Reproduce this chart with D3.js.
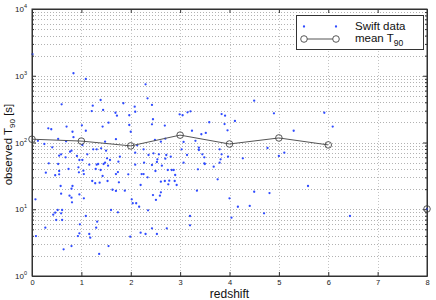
<!DOCTYPE html>
<html>
<head>
<meta charset="utf-8">
<script src="https://cdn.jsdelivr.net/npm/d3@7"></script>
<style>
  body { margin: 0; background: #fff; }
  svg { display: block; font-family: "Liberation Sans", Arial, sans-serif; }
</style>
</head>
<body>
<svg id="chart" width="436" height="300"></svg>
<script>
// Swift bursts: [redshift, observed T90 in s]
const swiftData = [
  [0.01,2100],
  [0.84,1090],[1.09,894],[0.60,373],[1.23,356],[1.39,433],[1.21,296],[1.44,307],[1.85,387],[1.69,279],[1.72,252],
  [1.55,198],[1.97,183],[0.33,163],[0.39,158],[0.70,173],[1.01,181],[0.82,145],[1.43,173],[0.84,120],[0.53,113],
  [1.70,112],[1.48,103],[0.12,106],[0.25,95],[0.41,84.7],[0.69,104],[1.02,91.8],[1.24,79.1],[1.31,79.1],[1.40,81.8],
  [1.50,75.4],[0.55,63.4],[0.59,66.6],[0.68,60.0],[0.77,72.8],[0.80,75.4],[0.91,62.8],[1.12,66.6],[0.96,54.7],[1.02,54.7],
  [1.52,58.0],[1.48,49.8],[1.58,54.7],[1.78,61.3],[1.75,51.6],[0.34,48.8],[1.34,47.6],
  [0.53,47.6],[0.28,35.3],[0.55,37.4],[0.47,32.3],[0.55,33.4],[0.74,40.1],[0.94,42.5],[0.95,35.8],[1.04,37.8],[1.05,33.7],
  [1.16,46.5],[1.31,46.5],[1.29,40.1],[1.39,38.7],[1.45,47.6],[1.54,44.9],[1.74,36.1],[1.70,33.7],[1.43,31.5],[1.95,33.4],
  [1.22,26.5],[1.28,24.5],[1.37,25.0],[1.53,26.5],[1.76,25.3],[0.58,22.3],[0.82,22.3],[0.80,20.3],[1.63,19.6],[1.70,18.8],[1.88,19.0],
  [0.59,17.1],[0.76,16.0],[0.96,16.7],[0.80,14.9],[1.05,14.6],[0.07,14.1],[0.81,12.7],[0.52,9.75],[0.61,9.75],[0.47,8.88],
  [0.43,8.28],[0.59,8.69],[1.60,9.75],[1.74,9.0],[1.09,7.92],[0.49,6.90],[0.61,6.90],[1.32,6.51],[0.97,5.95],[0.27,5.29],
  [1.30,5.29],[0.96,4.36],[0.93,3.97],[1.16,4.26],[1.18,3.75],[0.08,3.97],[1.55,2.81],[0.80,2.81],[0.64,2.51],[1.36,2.14],
  [2.30,745],[2.34,459],[2.08,344],[2.09,289],[2.43,365],[2.00,145],[2.45,223],[2.43,187],[2.69,179],[2.99,264],
  [3.05,256],[3.15,283],[3.21,293],[3.59,201],[3.24,150],[3.52,139],[3.43,133],[3.84,267],[3.91,252],[3.90,189],[3.96,152],
  [2.13,90.8],[2.49,109],[2.61,103],[2.70,114],[3.07,102],[3.31,106],[2.09,70.3],[2.26,79.1],[2.36,65.0],[2.46,68.9],
  [2.57,66.6],[2.72,65.0],[2.81,61.3],[2.70,57.2],[2.54,56.0],[3.03,79.1],[3.14,65.0],[3.38,83.6],[3.38,77.2],[3.45,66.6],
  [3.49,60.0],[3.80,79.1],[3.84,66.6],[3.82,56.0],[3.97,61.3],[2.27,49.8],[3.07,49.8],[3.49,48.8],[1.97,256],[1.09,150],
  [2.09,46.5],[2.43,46.0],[2.53,51.0],[2.63,44.9],[2.50,37.4],[2.75,38.7],[2.83,38.7],[2.87,38.7],[2.22,33.7],[2.26,33.7],
  [2.34,30.1],[2.90,32.6],[2.78,26.8],[2.61,25.9],[2.69,26.5],[2.76,23.6],[2.89,26.5],[2.93,23.1],[2.20,23.1],[2.61,17.9],
  [2.45,16.3],[2.59,16.0],[2.51,13.8],[2.02,14.1],[2.04,12.3],[2.11,12.3],[2.17,10.9],[2.35,9.64],[2.73,5.18],[2.43,5.18],
  [2.20,4.45],[2.30,4.26],[2.53,4.26],[1.99,3.88],[3.50,47.6],[3.80,49.8],[3.68,43.4],[3.36,39.7],[3.76,28.1],[3.34,19.0],
  [4.00,14.6],[3.20,7.92],[3.20,5.75],
  [4.50,423],[4.90,274],[4.11,210],[5.30,150],[5.92,279],[6.09,173],[4.77,82.7],[5.11,70.3],[5.00,62.8],[4.27,58.0],
  [4.50,18.3],[4.81,17.5],[4.17,10.9],[4.41,11.2],[4.70,8.69],[4.04,7.47],[5.59,22.3],[6.44,7.92],[8.00,10.1]
];

// mean T90 per redshift bin (no bin at 7, so the line stops at 6)
const meanRedshift = [0, 1, 2, 3, 4, 5, 6, 7, 8];
const meanT90 = [112, 105, 89, 129, 95, 117, 92, null, 10.1];

const xTicks = [0, 1, 2, 3, 4, 5, 6, 7, 8];
const yDecades = [1, 10, 100, 1000, 10000];
const yExponents = ['0', '1', '2', '3', '4'];

const W = 436, H = 300;
const m = {top: 9, right: 9, bottom: 24, left: 32};
const axisColor = '#333';

const x = d3.scaleLinear().domain([0, 8]).range([m.left, W - m.right]);
const y = d3.scaleLog().domain([1, 1e4]).range([H - m.bottom, m.top]);

const svg = d3.select('#chart');

// --- dotted grid: every log tick horizontally, integer redshifts vertically ---
const yAll = y.ticks().filter(v => v > 1 && v < 1e4);
svg.append('g')
  .selectAll('line')
  .data(yAll)
  .join('line')
  .attr('x1', x(0)).attr('x2', x(8))
  .attr('y1', d => Math.round(y(d)) + 0.5)
  .attr('y2', d => Math.round(y(d)) + 0.5)
  .attr('stroke', '#b2b2b2')
  .attr('stroke-width', 1)
  .attr('stroke-dasharray', '1,2');

svg.append('g')
  .selectAll('line')
  .data(xTicks.filter(d => d > 0 && d < 8))
  .join('line')
  .attr('x1', d => Math.round(x(d)) + 0.5)
  .attr('x2', d => Math.round(x(d)) + 0.5)
  .attr('y1', y(1e4)).attr('y2', y(1))
  .attr('stroke', '#c4c4c4')
  .attr('stroke-width', 1)
  .attr('stroke-dasharray', '1,2');

// --- axes (MATLAB style: ticks pointing in, on all four sides) ---
const isMajor = v => Math.abs(Math.log10(v) - Math.round(Math.log10(v))) < 1e-9;

const xb = svg.append('g')
  .attr('transform', `translate(0,${y(1)})`)
  .call(d3.axisBottom(x).tickValues(xTicks).tickSizeInner(-4).tickSizeOuter(0).tickPadding(4));
const xt = svg.append('g')
  .attr('transform', `translate(0,${y(1e4)})`)
  .call(d3.axisTop(x).tickValues(xTicks).tickSizeInner(-4).tickSizeOuter(0).tickFormat(''));
const yl = svg.append('g')
  .attr('transform', `translate(${x(0)},0)`)
  .call(d3.axisLeft(y).tickValues(y.ticks()).tickSizeOuter(0).tickFormat(''));
const yr = svg.append('g')
  .attr('transform', `translate(${x(8)},0)`)
  .call(d3.axisRight(y).tickValues(y.ticks()).tickSizeOuter(0).tickFormat(''));

yl.selectAll('.tick line').attr('x2', d => isMajor(d) ? 4 : 2);
yr.selectAll('.tick line').attr('x2', d => isMajor(d) ? -4 : -2);

[xb, xt, yl, yr].forEach(g => {
  g.select('.domain').attr('stroke', axisColor);
  g.selectAll('.tick line').attr('stroke', axisColor);
});
xb.selectAll('.tick text')
  .attr('fill', '#222')
  .attr('font-size', 7.5)
  .attr('font-family', '"Liberation Sans", Arial, sans-serif');

// y tick labels as 10^n
const yLab = svg.append('g')
  .selectAll('text')
  .data(yDecades)
  .join('text')
  .attr('x', x(0) - 5)
  .attr('y', d => y(d) + 3)
  .attr('text-anchor', 'end')
  .attr('font-size', 8)
  .attr('fill', '#222');
yLab.append('tspan').text('10');
yLab.append('tspan')
  .attr('dy', -4)
  .attr('font-size', 5.5)
  .text((d, i) => yExponents[i]);

// axis titles
svg.append('text')
  .attr('x', (x(0) + x(8)) / 2)
  .attr('y', 298)
  .attr('text-anchor', 'middle')
  .attr('font-size', 12)
  .attr('fill', '#111')
  .text('redshift');

const yTitle = svg.append('text')
  .attr('transform', `translate(12,${(y(1) + y(1e4)) / 2 + 2}) rotate(-90)`)
  .attr('text-anchor', 'middle')
  .attr('font-size', 11.5)
  .attr('fill', '#111');
yTitle.append('tspan').text('observed T');
yTitle.append('tspan').attr('font-size', 8).attr('dy', 3).text('90');
yTitle.append('tspan').attr('dy', -3).text(' [s]');

// --- Swift data points ---
const blue = '#2f4bff';
svg.append('g')
  .selectAll('circle')
  .data(swiftData)
  .join('circle')
  .attr('cx', d => x(d[0]))
  .attr('cy', d => y(d[1]))
  .attr('r', 1.15)
  .attr('fill', blue);

// --- mean T90 line + open circles ---
const meanPts = meanRedshift.map((z, i) => ({z, t: meanT90[i]}));
const line = d3.line()
  .defined(d => d.t != null)
  .x(d => x(d.z))
  .y(d => y(d.t));

svg.append('path')
  .datum(meanPts)
  .attr('d', line)
  .attr('fill', 'none')
  .attr('stroke', '#555')
  .attr('stroke-width', 1);

svg.append('g')
  .selectAll('circle')
  .data(meanPts.filter(d => d.t != null))
  .join('circle')
  .attr('cx', d => x(d.z))
  .attr('cy', d => y(d.t))
  .attr('r', 3.3)
  .attr('fill', 'none')
  .attr('stroke', '#444')
  .attr('stroke-width', 0.9);

// --- legend ---
const lg = svg.append('g').attr('transform', 'translate(296.5,15.5)');
lg.append('rect')
  .attr('width', 127).attr('height', 34)
  .attr('fill', '#fff')
  .attr('stroke', axisColor)
  .attr('stroke-width', 1);
lg.selectAll('circle.dot')
  .data([7.5, 39.5])
  .join('circle')
  .attr('class', 'dot')
  .attr('cx', d => d).attr('cy', 11)
  .attr('r', 1.15)
  .attr('fill', blue);
lg.append('line')
  .attr('x1', 7.5).attr('x2', 39.5)
  .attr('y1', 23.5).attr('y2', 23.5)
  .attr('stroke', '#555');
lg.selectAll('circle.ring')
  .data([7.5, 39.5])
  .join('circle')
  .attr('class', 'ring')
  .attr('cx', d => d).attr('cy', 23.5)
  .attr('r', 3.3)
  .attr('fill', '#fff')
  .attr('stroke', '#444')
  .attr('stroke-width', 0.9);
lg.append('text')
  .attr('x', 58.5).attr('y', 14)
  .attr('font-size', 11.5)
  .attr('fill', '#111')
  .text('Swift data');
const mt = lg.append('text')
  .attr('x', 58.5).attr('y', 26.5)
  .attr('font-size', 11.5)
  .attr('fill', '#111');
mt.append('tspan').text('mean T');
mt.append('tspan').attr('font-size', 8.5).attr('dy', 3.5).text('90');

// outer box on top of everything
svg.append('rect')
  .attr('x', x(0)).attr('y', y(1e4))
  .attr('width', x(8) - x(0)).attr('height', y(1) - y(1e4))
  .attr('fill', 'none')
  .attr('stroke', axisColor)
  .attr('stroke-width', 1);
</script>
</body>
</html>
